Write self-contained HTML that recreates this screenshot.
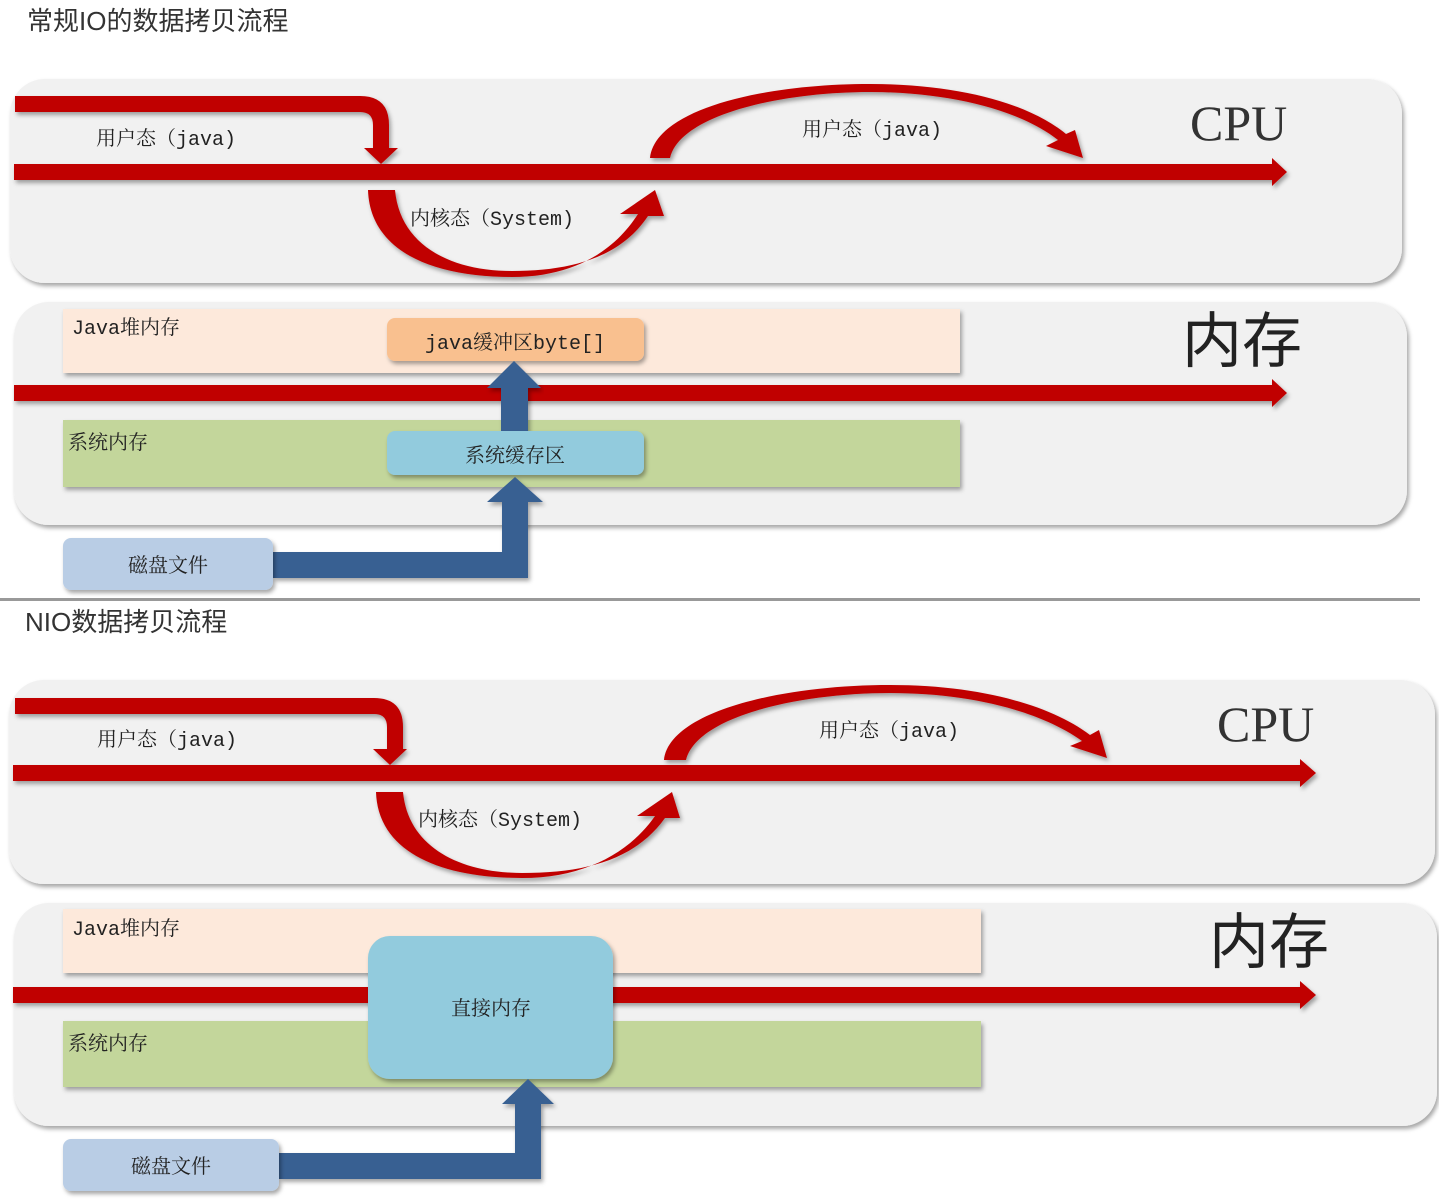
<!DOCTYPE html>
<html><head><meta charset="utf-8"><style>
html,body{margin:0;padding:0;background:#fff;}
svg{display:block;}
text{font-family:"Liberation Mono","Noto Serif CJK SC","Noto Sans CJK SC",monospace;fill:#222;}
.t{font-family:"Liberation Sans","Noto Sans CJK SC",sans-serif;font-size:26px;fill:#333;}
.big{font-family:"Liberation Serif","Noto Serif CJK SC",serif;font-size:50px;fill:#333;}
.nc{font-family:"Liberation Sans","Noto Sans CJK SC",sans-serif;font-size:60px;fill:#222;}
.lb{font-size:20px;}
</style></head><body>
<svg width="1439" height="1201" viewBox="0 0 1439 1201" xmlns="http://www.w3.org/2000/svg">
<defs>
<filter id="sh" x="-5%" y="-10%" width="110%" height="130%"><feDropShadow dx="2" dy="3" stdDeviation="2" flood-color="#000" flood-opacity="0.35"/></filter>
</defs>

<!-- ===== TOP ===== -->
<text class="t" x="27" y="30">常规IO的数据拷贝流程</text>
<rect x="10" y="79" width="1392" height="204" rx="35" fill="#f1f1f1" filter="url(#sh)"/>
<g fill="#c00000" filter="url(#sh)">
<path d="M15,96 L360,96 Q389,96 389,125 L389,148 L398,148 L381,164 L364,148 L373,148 L373,125 Q373,112 360,112 L15,112 Z"/>
<path d="M14,164 L1272,164 L1272,158 L1287,172 L1272,186 L1272,180 L14,180 Z"/>
<path d="M368,190 C370,250 430,277 512,277 C575,277 615,250 638,214 L620,214 L655,190 L664,216 L648,216 C620,258 570,271 512,271 C450,271 400,245 395,190 Z"/>
<path d="M650,158 C655,110 760,84 870,84 C960,84 1030,104 1066,134 L1075,130 L1083,158 L1046,146 L1058,140 C1020,110 950,92 870,92 C780,92 680,115 670,158 Z"/>
</g>
<text class="lb" x="96" y="145">用户态（java)</text>
<text class="lb" x="802" y="136">用户态（java)</text>
<text class="lb" x="410" y="225">内核态（System)</text>
<text class="big" x="1190" y="140">CPU</text>

<rect x="14" y="302" width="1393" height="223" rx="35" fill="#f1f1f1" filter="url(#sh)"/>
<rect x="63" y="309" width="897" height="64" fill="#fde9db" filter="url(#sh)"/>
<text class="lb" x="72" y="334">Java堆内存</text>
<path d="M14,385 L1272,385 L1272,379 L1287,393 L1272,407 L1272,401 L14,401 Z" fill="#c00000" filter="url(#sh)"/>
<rect x="63" y="420" width="897" height="67" fill="#c3d69b" filter="url(#sh)"/>
<text class="lb" x="68" y="449">系统内存</text>
<rect x="387" y="318" width="257" height="43" rx="8" fill="#f9c08f" filter="url(#sh)"/>
<text class="lb" x="515" y="349" text-anchor="middle" font-size="19">java缓冲区byte[]</text>
<path d="M501,431 L501,388 L487,388 L514,361 L541,388 L528,388 L528,431 Z" fill="#376092" filter="url(#sh)"/>
<rect x="387" y="431" width="257" height="44" rx="8" fill="#92cbdd" filter="url(#sh)"/>
<text class="lb" x="515" y="462" text-anchor="middle" font-size="19">系统缓存区</text>
<text class="nc" x="1182" y="362">内存</text>
<path d="M273,552 L502,552 L502,502 L487,502 L515,477 L543,502 L528,502 L528,578 L273,578 Z" fill="#376092" filter="url(#sh)"/>
<rect x="63" y="538" width="210" height="52" rx="8" fill="#b9cde5" filter="url(#sh)"/>
<text class="lb" x="168" y="572" text-anchor="middle" font-size="19">磁盘文件</text>

<rect x="0" y="598" width="1420" height="3" fill="#999"/>

<!-- ===== BOTTOM ===== -->
<text class="t" x="25" y="631">NIO数据拷贝流程</text>
<rect x="9" y="680" width="1426" height="204" rx="35" fill="#f1f1f1" filter="url(#sh)"/>
<g fill="#c00000" filter="url(#sh)">
<path d="M15,698 L374,698 Q403,698 403,727 L403,749 L407,749 L390,765 L373,749 L387,749 L387,727 Q387,714 374,714 L15,714 Z"/>
<path d="M13,765 L1300,765 L1300,759 L1316,773 L1300,787 L1300,781 L13,781 Z"/>
<path d="M376,792 C378,852 440,878 522,878 C585,878 630,852 655,816 L637,816 L672,792 L680,818 L665,818 C635,860 585,873 522,873 C460,873 408,847 403,792 Z"/>
<path d="M664,760 C669,712 780,685 890,685 C980,685 1050,705 1090,735 L1099,730 L1107,758 L1070,746 L1082,741 C1040,711 970,693 890,693 C800,693 697,716 686,760 Z"/>
</g>
<text class="lb" x="97" y="746">用户态（java)</text>
<text class="lb" x="819" y="737">用户态（java)</text>
<text class="lb" x="418" y="826">内核态（System)</text>
<text class="big" x="1217" y="741">CPU</text>

<rect x="14" y="903" width="1423" height="223" rx="35" fill="#f1f1f1" filter="url(#sh)"/>
<rect x="63" y="909" width="918" height="64" fill="#fde9db" filter="url(#sh)"/>
<text class="lb" x="72" y="935">Java堆内存</text>
<path d="M13,987 L1300,987 L1300,981 L1316,995 L1300,1009 L1300,1003 L13,1003 Z" fill="#c00000" filter="url(#sh)"/>
<rect x="63" y="1021" width="918" height="66" fill="#c3d69b" filter="url(#sh)"/>
<text class="lb" x="68" y="1050">系统内存</text>
<rect x="368" y="936" width="245" height="143" rx="22" fill="#92cbdd" filter="url(#sh)"/>
<text class="lb" x="491" y="1015" text-anchor="middle" font-size="19">直接内存</text>
<text class="nc" x="1209" y="963">内存</text>
<path d="M279,1153 L515,1153 L515,1104 L502,1104 L528,1079 L554,1104 L541,1104 L541,1179 L279,1179 Z" fill="#376092" filter="url(#sh)"/>
<rect x="63" y="1139" width="216" height="52" rx="8" fill="#b9cde5" filter="url(#sh)"/>
<text class="lb" x="171" y="1173" text-anchor="middle" font-size="19">磁盘文件</text>
</svg>
</body></html>
